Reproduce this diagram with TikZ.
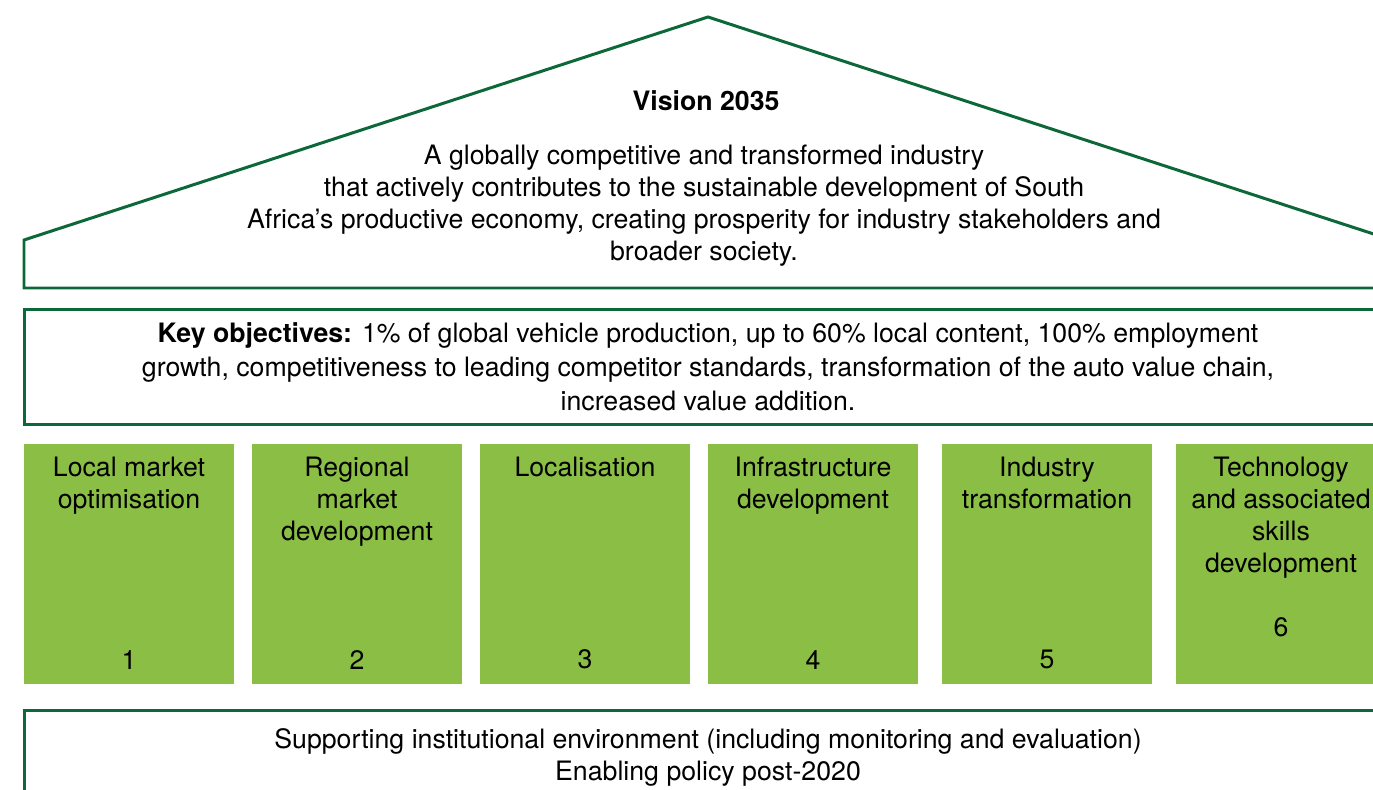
\documentclass[tikz,border=0pt]{standalone}
\usepackage{fontspec}
\setmainfont{TeX Gyre Heros}
\usetikzlibrary{positioning}
\definecolor{verdescuro}{RGB}{12,104,56}
\definecolor{verdechiaro}{RGB}{138,190,68}

\begin{document}
\begin{tikzpicture}[x=0.02cm, y=-0.02cm,
    bordo/.style={draw=verdescuro, line width=1.7pt, line join=miter},
    testo/.style={font=\fontsize{15.2}{18.2}\selectfont, align=center, inner sep=0pt},
    pilastro/.style={fill=verdechiaro, minimum width=4.2cm, minimum height=4.8cm, inner sep=0pt}]
  \useasboundingbox (0,0) rectangle (1373,790);
  \clip (0,0) rectangle (1373,790);

  % Tetto con la visione
  \coordinate (basesx) at (24,288);
  \coordinate (grondasx) at (24,240);
  \coordinate (colmo) at (708,17);
  \coordinate (grondadx) at (1392,240);
  \coordinate (basedx) at (1392,288);
  \draw[bordo] (basesx) -- (grondasx) -- (colmo) -- (grondadx) -- (basedx) -- cycle;
  \node[testo, font=\fontsize{15.2}{18.2}\selectfont\bfseries] (titolo) at (706,101) {Vision 2035};
  \node[testo] (visione) at (704,206) {A globally competitive and transformed industry\\
    that actively contributes to the sustainable development of South\\
    Africa’s productive economy, creating prosperity for industry stakeholders and\\
    broader society.};

  % Obiettivi chiave
  \node[bordo, testo, font=\fontsize{15.2}{19.3}\selectfont, minimum width=27.36cm, minimum height=2.32cm] (obiettivi) at (708,367)
    {\textbf{Key objectives:} 1\% of global vehicle production, up to 60\% local content, 100\% employment\\
    growth, competitiveness to leading competitor standards, transformation of the auto value chain,\\
    increased value addition.};

  % Pilastri
  \foreach \i/\cx/\etichetta/\gap in {1/129/{Local market\\optimisation}/8.5pt,
      2/357/{Regional\\market\\development}/8.5pt,
      3/585/{Localisation}/8.5pt,
      4/813/{Infrastructure\\development}/8.5pt,
      5/1047/{Industry\\transformation}/8.5pt,
      6/1281/{Technology\\and associated\\skills\\development}/26.6pt} {
    \node[pilastro] (p\i) at (\cx,564) {};
    \node[testo, below=7.5pt of p\i.north] (p\i-t) {\etichetta};
    \node[testo, above=\gap of p\i.south] (p\i-n) {\i};
  }

  % Base istituzionale
  \node[bordo, testo, minimum width=27.36cm, minimum height=1.88cm] (base) at (708,757)
    {Supporting institutional environment (including monitoring and evaluation)\\
    Enabling policy post-2020};
\end{tikzpicture}
\end{document}
